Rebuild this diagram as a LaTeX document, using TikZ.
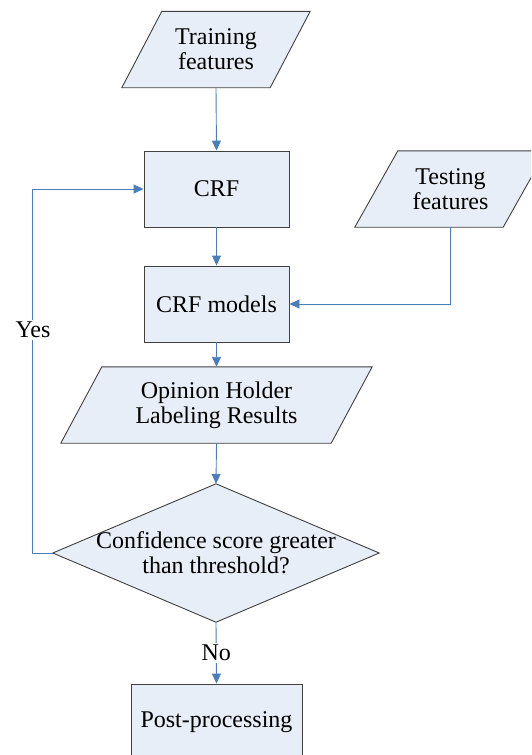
\documentclass[tikz,border=0pt]{standalone}
\usepackage{fontspec}
\setmainfont{Liberation Serif}
\usetikzlibrary{arrows.meta}
\definecolor{boxfill}{HTML}{E8EEF7}
\definecolor{boxline}{HTML}{404040}
\definecolor{flow}{HTML}{4A7EBB}
\begin{document}
\begin{tikzpicture}[x=1pt,y=-1pt,
  lbl/.style={font=\fontsize{24}{25}\selectfont, align=center, inner sep=0pt},
  frame/.style={draw=boxline, fill=boxfill, line width=0.9pt},
  proc/.style={frame, lbl, minimum width=145pt, minimum height=76pt},
  slot/.style={lbl, minimum width=#1, minimum height=76pt},
  link/.style={draw=flow, line width=0.9pt, -{Triangle[length=10pt,width=9pt]}},
  tag/.style={lbl, fill=white, inner sep=2pt},
]
\useasboundingbox (0,0) rectangle (531,755);
\clip (0,0) rectangle (531,755);

% data (parallelogram) nodes: invisible box + slanted outline
\node[slot=148pt] (train) at (216,49.5) {};
\filldraw[frame] ([xshift=20pt]train.north west) -- ([xshift=20pt]train.north east)
  -- ([xshift=-20pt]train.south east) -- ([xshift=-20pt]train.south west) -- cycle;
\node[lbl] at (train) {Training\\features};

\node[slot=148pt] (test) at (450.5,189) {};
\filldraw[frame] ([xshift=21.5pt]test.north west) -- ([xshift=21.5pt]test.north east)
  -- ([xshift=-21.5pt]test.south east) -- ([xshift=-21.5pt]test.south west) -- cycle;
\node[lbl] at (test) {Testing\\features};

\node[slot=270pt] (result) at (216.5,405) {};
\filldraw[frame] ([xshift=20.5pt]result.north west) -- ([xshift=20.5pt]result.north east)
  -- ([xshift=-20.5pt]result.south east) -- ([xshift=-20.5pt]result.south west) -- cycle;
\node[lbl] at (result) {Opinion Holder\\Labeling Results};

% process boxes
\node[proc] (crf) at (216.5,189) {CRF};
\node[proc] (models) at (216.5,304) {CRF models};
\node[proc, minimum width=171pt] (post) at (216.5,722) {Post-processing};

% decision
\node[lbl, minimum width=326pt, minimum height=138pt] (dec) at (216,553) {};
\filldraw[frame] (dec.north) -- (dec.east) -- (dec.south) -- (dec.west) -- cycle;
\node[lbl] at (dec) {Confidence score greater\\than threshold?};

% connectors
\draw[link] (train.south) -- (crf.north);
\draw[link] (crf.south) -- (models.north);
\draw[link] (test.south) |- (models.east);
\draw[link] (models.south) -- (result.north);
\draw[link] (result.south) -- (dec.north);
\draw[link] (dec.west) -- ++(-20,0) |- (crf.west);
\node[tag] (yes) at (33,330) {Yes};
\draw[link] (dec.south) -- node[tag] (no) {No} (post.north);
\end{tikzpicture}
\end{document}
